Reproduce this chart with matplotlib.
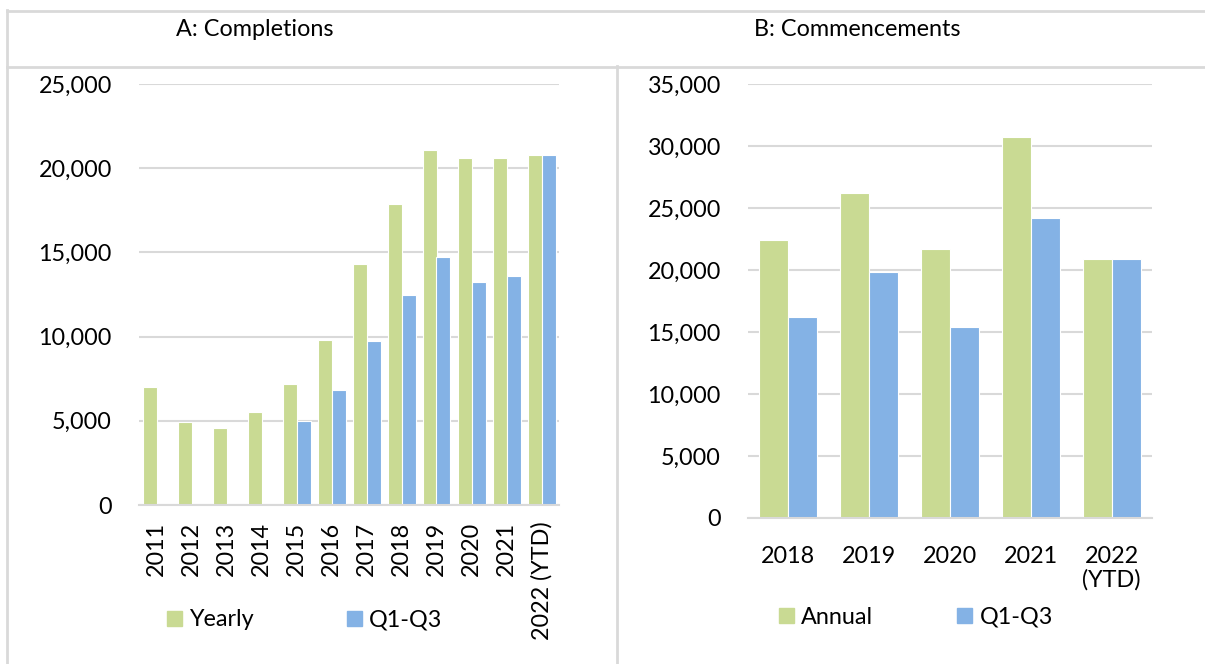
import numpy as np
import matplotlib
matplotlib.use("Agg")
import matplotlib.pyplot as plt
from matplotlib.lines import Line2D
from matplotlib.patches import Patch
from matplotlib.ticker import FuncFormatter

plt.rcParams['font.family'] = ['Lato', 'DejaVu Sans']

# Panel A data
years_a = ['2011', '2012', '2013', '2014', '2015', '2016', '2017', '2018',
           '2019', '2020', '2021', '2022 (YTD)']
yearly = [7000, 4900, 4550, 5500, 7200, 9800, 14300, 17900, 21100, 20600, 20600, 20800]
q13_a = [np.nan, np.nan, np.nan, np.nan, 5000, 6800, 9750, 12450, 14700, 13250, 13600, 20800]

# Panel B data
years_b = ['2018', '2019', '2020', '2021', '2022\n(YTD)']
annual = [22450, 26200, 21700, 30700, 20900]
q13_b = [16200, 19800, 15400, 24200, 20900]

GREEN = '#c9da93'
BLUE = '#84b2e5'
GRID = '#d9d9d9'
FS = 16.8

W, H = 1205, 664
fig = plt.figure(figsize=(W / 100, H / 100), dpi=100)


def px_axes(x0, x1, ytop, ybot):
    return fig.add_axes([x0 / W, (H - ybot) / H, (x1 - x0) / W, (ybot - ytop) / H])


def style(ax, ymax, step):
    ax.set_ylim(0, ymax)
    ax.set_yticks(np.arange(0, ymax + 1, step))
    ax.yaxis.set_major_formatter(FuncFormatter(lambda v, p: f'{int(v):,}'))
    ax.grid(axis='y', color=GRID, lw=1.5)
    ax.set_axisbelow(True)
    for s in ['top', 'right', 'left']:
        ax.spines[s].set_visible(False)
    ax.spines['bottom'].set_color(GRID)
    ax.spines['bottom'].set_linewidth(1.5)
    ax.tick_params(length=0, labelsize=FS, colors='black')
    ax.tick_params(axis='y', pad=19.5)


# Panel A
ax1 = px_axes(139, 559, 84, 505)
x = np.arange(len(years_a))
ax1.bar(x - 0.2, yearly, 0.4, color=GREEN, edgecolor='white', lw=0.8)
ax1.bar(x + 0.2, q13_a, 0.4, color=BLUE, edgecolor='white', lw=0.8)
ax1.set_xlim(-0.5, len(years_a) - 0.5)
style(ax1, 25000, 5000)
ax1.set_xticks(x)
ax1.set_xticklabels(years_a, rotation=90, va='top')
ax1.tick_params(axis='x', pad=12)
ax1.legend(handles=[Patch(color=GREEN, label='Yearly'), Patch(color=BLUE, label='Q1-Q3')],
           ncol=2, frameon=False, fontsize=FS, handlelength=0.65, handleheight=0.65,
           handletextpad=0.3, columnspacing=4.0, borderpad=0, borderaxespad=0,
           loc='center left', bbox_to_anchor=(167 / W, (H - 620) / H),
           bbox_transform=fig.transFigure)

# Panel B
ax2 = px_axes(748, 1152, 84, 518)
x = np.arange(len(years_b))
ax2.bar(x - 0.18, annual, 0.36, color=GREEN, edgecolor='white', lw=0.8)
ax2.bar(x + 0.18, q13_b, 0.36, color=BLUE, edgecolor='white', lw=0.8)
ax2.set_xlim(-0.5, len(years_b) - 0.5)
style(ax2, 35000, 5000)
ax2.set_xticks(x)
ax2.set_xticklabels(years_b, linespacing=1.15)
ax2.tick_params(axis='x', pad=20)
ax2.legend(handles=[Patch(color=GREEN, label='Annual'), Patch(color=BLUE, label='Q1-Q3')],
           ncol=2, frameon=False, fontsize=FS, handlelength=0.65, handleheight=0.65,
           handletextpad=0.3, columnspacing=3.6, borderpad=0, borderaxespad=0,
           loc='center left', bbox_to_anchor=(779 / W, (H - 617) / H),
           bbox_transform=fig.transFigure)

# titles
fig.text(255 / W, (H - 29) / H, 'A: Completions', ha='center', va='center', fontsize=FS)
fig.text(857 / W, (H - 29) / H, 'B: Commencements', ha='center', va='center', fontsize=FS)

# table borders
def hline(y, x0, x1):
    fig.add_artist(Line2D([x0 / W, x1 / W], [(H - y) / H, (H - y) / H], color=GRID, lw=2))


def vline(x, y0, y1):
    fig.add_artist(Line2D([x / W, x / W], [(H - y0) / H, (H - y1) / H], color=GRID, lw=2))


hline(10.5, 7, W)
hline(66.5, 7, W)
vline(7.5, 10, H)
vline(616.5, 66, H)

fig.savefig('out.png', dpi=100)
